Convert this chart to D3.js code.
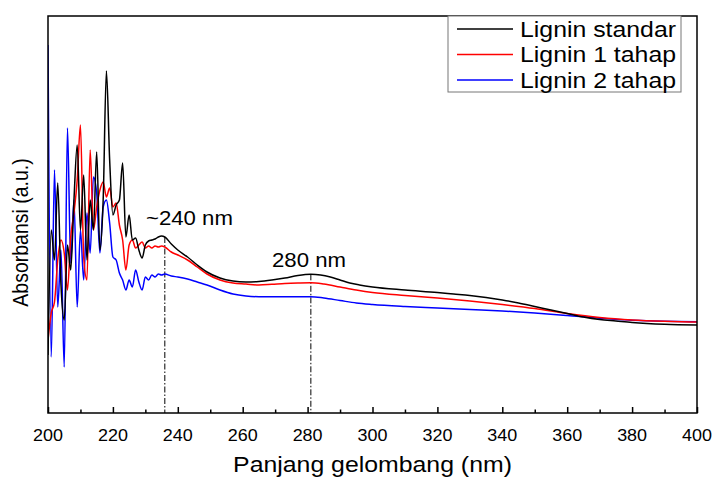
<!DOCTYPE html>
<html>
<head>
<meta charset="utf-8">
<script src="https://cdn.jsdelivr.net/npm/d3@7"></script>
<style>
  body { margin: 0; background: #fff; }
  svg text { font-family: "Liberation Sans", Arial, sans-serif; fill: #000; }
</style>
</head>
<body>
<svg id="chart" width="713" height="478"></svg>
<script>
// wavelengths (nm) and absorbance (a.u.)
var blackWl = [200,201,202,203,204,205,206,207,208,209,210,211,212,213,214,215,216,217,218,219,220,221,222,223,224,225,226,227,228,229,230,231,232,233,234,235,236,238,240,243,246,249,253,257,261,265,269,273,277,281,284,287,290,293,296,300,310,320,325,330,335,340,345,350,355,360,365,370,375,380,390,400];
var blackAbs = [0.58,1.83,1.53,2.30,1.28,0.93,1.68,1.43,2.13,2.68,1.83,2.38,1.53,2.13,1.83,2.61,1.63,2.13,3.42,2.53,1.98,2.08,2.13,2.50,1.76,1.98,1.73,1.75,1.63,1.55,1.68,1.72,1.73,1.74,1.76,1.77,1.76,1.69,1.63,1.56,1.48,1.41,1.35,1.32,1.31,1.315,1.33,1.35,1.375,1.387,1.38,1.36,1.33,1.30,1.28,1.26,1.23,1.205,1.19,1.175,1.155,1.13,1.10,1.065,1.03,0.995,0.96,0.935,0.92,0.905,0.887,0.88];

var redWl = [200,201,202,203,204,205,206,207,208,209,210,211,212,213,214,215,216,217,218,219,220,221,222,223,224,225,226,227,228,229,230,231,232,233,234,235,236,238,240,243,246,249,253,257,261,265,269,273,277,281,285,290,295,300,310,320,330,340,350,360,370,380,390,400];
var redAbs = [0.73,1.00,1.11,1.53,1.73,1.60,1.23,1.76,2.00,2.33,2.88,1.56,1.33,2.63,1.83,2.06,2.23,2.31,2.16,2.25,2.06,2.10,1.88,1.73,1.43,1.68,1.73,1.65,1.68,1.71,1.65,1.67,1.65,1.67,1.66,1.67,1.66,1.61,1.58,1.53,1.46,1.39,1.33,1.30,1.29,1.28,1.287,1.295,1.30,1.303,1.29,1.26,1.23,1.205,1.175,1.15,1.12,1.085,1.045,0.995,0.955,0.93,0.917,0.91];

var blueWl = [200,201,202,203,204,205,206,207,208,209,210,211,212,213,214,215,216,217,218,219,220,221,222,223,224,225,226,227,228,229,230,231,232,233,234,235,236,238,240,243,246,249,253,257,261,265,273,281,285,290,295,300,310,320,330,340,350,360,370,380,390,400];
var blueAbs = [3.68,0.56,2.43,1.06,1.63,0.46,2.85,1.50,2.13,1.06,1.83,1.33,2.00,1.60,2.36,2.20,1.60,2.06,2.13,1.90,1.56,1.53,1.40,1.33,1.23,1.33,1.26,1.43,1.31,1.23,1.36,1.33,1.38,1.36,1.39,1.38,1.39,1.37,1.36,1.34,1.31,1.28,1.23,1.19,1.17,1.163,1.163,1.163,1.15,1.125,1.10,1.085,1.065,1.05,1.035,1.02,1.00,0.975,0.948,0.928,0.917,0.913];

var seriesNames = ["Lignin standar", "Lignin 1 tahap", "Lignin 2 tahap"];
var seriesColors = ["#000000", "#ff0000", "#0000ff"];
var xTicks = [200,220,240,260,280,300,320,340,360,380,400];
var peakWl = [236, 281];
var peakLabels = ["~240 nm", "280 nm"];

var margin = {left: 48, right: 16, top: 16, bottom: 65};
var width = 713, height = 478;
var plotW = width - margin.left - margin.right;
var plotH = height - margin.top - margin.bottom;
var stretch = 1.15;

var svg = d3.select("#chart");
var x = d3.scaleLinear().domain([200, 400]).range([margin.left, margin.left + plotW]);
var y = d3.scaleLinear().domain([0, 3.97]).range([margin.top + plotH, margin.top]);

var series = [
  {name: seriesNames[0], color: seriesColors[0], wl: blackWl, abs: blackAbs},
  {name: seriesNames[1], color: seriesColors[1], wl: redWl, abs: redAbs},
  {name: seriesNames[2], color: seriesColors[2], wl: blueWl, abs: blueAbs}
];

svg.append("clipPath").attr("id", "plotClip")
  .append("rect")
  .attr("x", margin.left).attr("y", margin.top)
  .attr("width", plotW).attr("height", plotH);

function addText(px, py, str, size, anchor) {
  return svg.append("text")
    .attr("transform", "translate(" + px + "," + py + ") scale(" + stretch + ",1)")
    .attr("text-anchor", anchor)
    .style("font-size", size + "px")
    .text(str);
}

// peak markers (dash-dot)
peakWl.forEach(function(w, i) {
  var k = blackWl.indexOf(w);
  svg.append("line")
    .attr("x1", x(w)).attr("x2", x(w))
    .attr("y1", y(blackAbs[k])).attr("y2", y(0))
    .attr("stroke", "#000")
    .attr("stroke-width", 1)
    .attr("stroke-dasharray", "6,2,1.5,2");
});

var line = d3.line()
  .x(function(d) { return x(d[0]); })
  .y(function(d) { return y(d[1]); })
  .curve(d3.curveMonotoneX);

// draw blue first so black sits on top
series.slice().reverse().forEach(function(s) {
  svg.append("path")
    .datum(d3.zip(s.wl, s.abs))
    .attr("clip-path", "url(#plotClip)")
    .attr("fill", "none")
    .attr("stroke", s.color)
    .attr("stroke-width", 1.5)
    .attr("stroke-linejoin", "round")
    .attr("d", line);
});

// frame
svg.append("rect")
  .attr("x", margin.left).attr("y", margin.top)
  .attr("width", plotW).attr("height", plotH)
  .attr("fill", "none")
  .attr("stroke", "#000")
  .attr("stroke-width", 1.5);

// bottom axis, ticks pointing inward
var xAxis = d3.axisBottom(x)
  .tickValues(d3.range(200, 401, 10))
  .tickSize(0)
  .tickFormat("");
var axisG = svg.append("g")
  .attr("transform", "translate(0," + (margin.top + plotH) + ")")
  .call(xAxis);
axisG.select(".domain").remove();
axisG.selectAll(".tick line")
  .attr("y2", function(d) { return d % 20 === 0 ? -6 : -3.5; })
  .attr("stroke", "#000")
  .attr("stroke-width", 1.5);

xTicks.forEach(function(t) {
  addText(x(t), margin.top + plotH + 28, t, 15.6, "middle");
});

// axis titles
addText(margin.left + plotW / 2, 472, "Panjang gelombang (nm)", 21.6, "middle");
svg.append("text")
  .attr("transform", "translate(28," + (margin.top + plotH / 2 + 18) + ") scale(" + stretch + ",1) rotate(-90)")
  .attr("text-anchor", "middle")
  .style("font-size", "19.5px")
  .text("Absorbansi (a.u.)");

// peak labels
addText(146, 225, peakLabels[0], 19.3, "start");
addText(272, 267, peakLabels[1], 19.3, "start");

// legend
var legend = svg.append("g");
legend.append("rect")
  .attr("x", 448).attr("y", margin.top)
  .attr("width", 233).attr("height", 76)
  .attr("fill", "#fff")
  .attr("stroke", "#777")
  .attr("stroke-width", 1);
series.forEach(function(s, i) {
  var ly = 29 + i * 25.5;
  legend.append("line")
    .attr("x1", 457).attr("x2", 513)
    .attr("y1", ly).attr("y2", ly)
    .attr("stroke", s.color)
    .attr("stroke-width", 1.5);
  addText(520, ly + 7.5, s.name, 21.6, "start");
});
</script>
</body>
</html>
